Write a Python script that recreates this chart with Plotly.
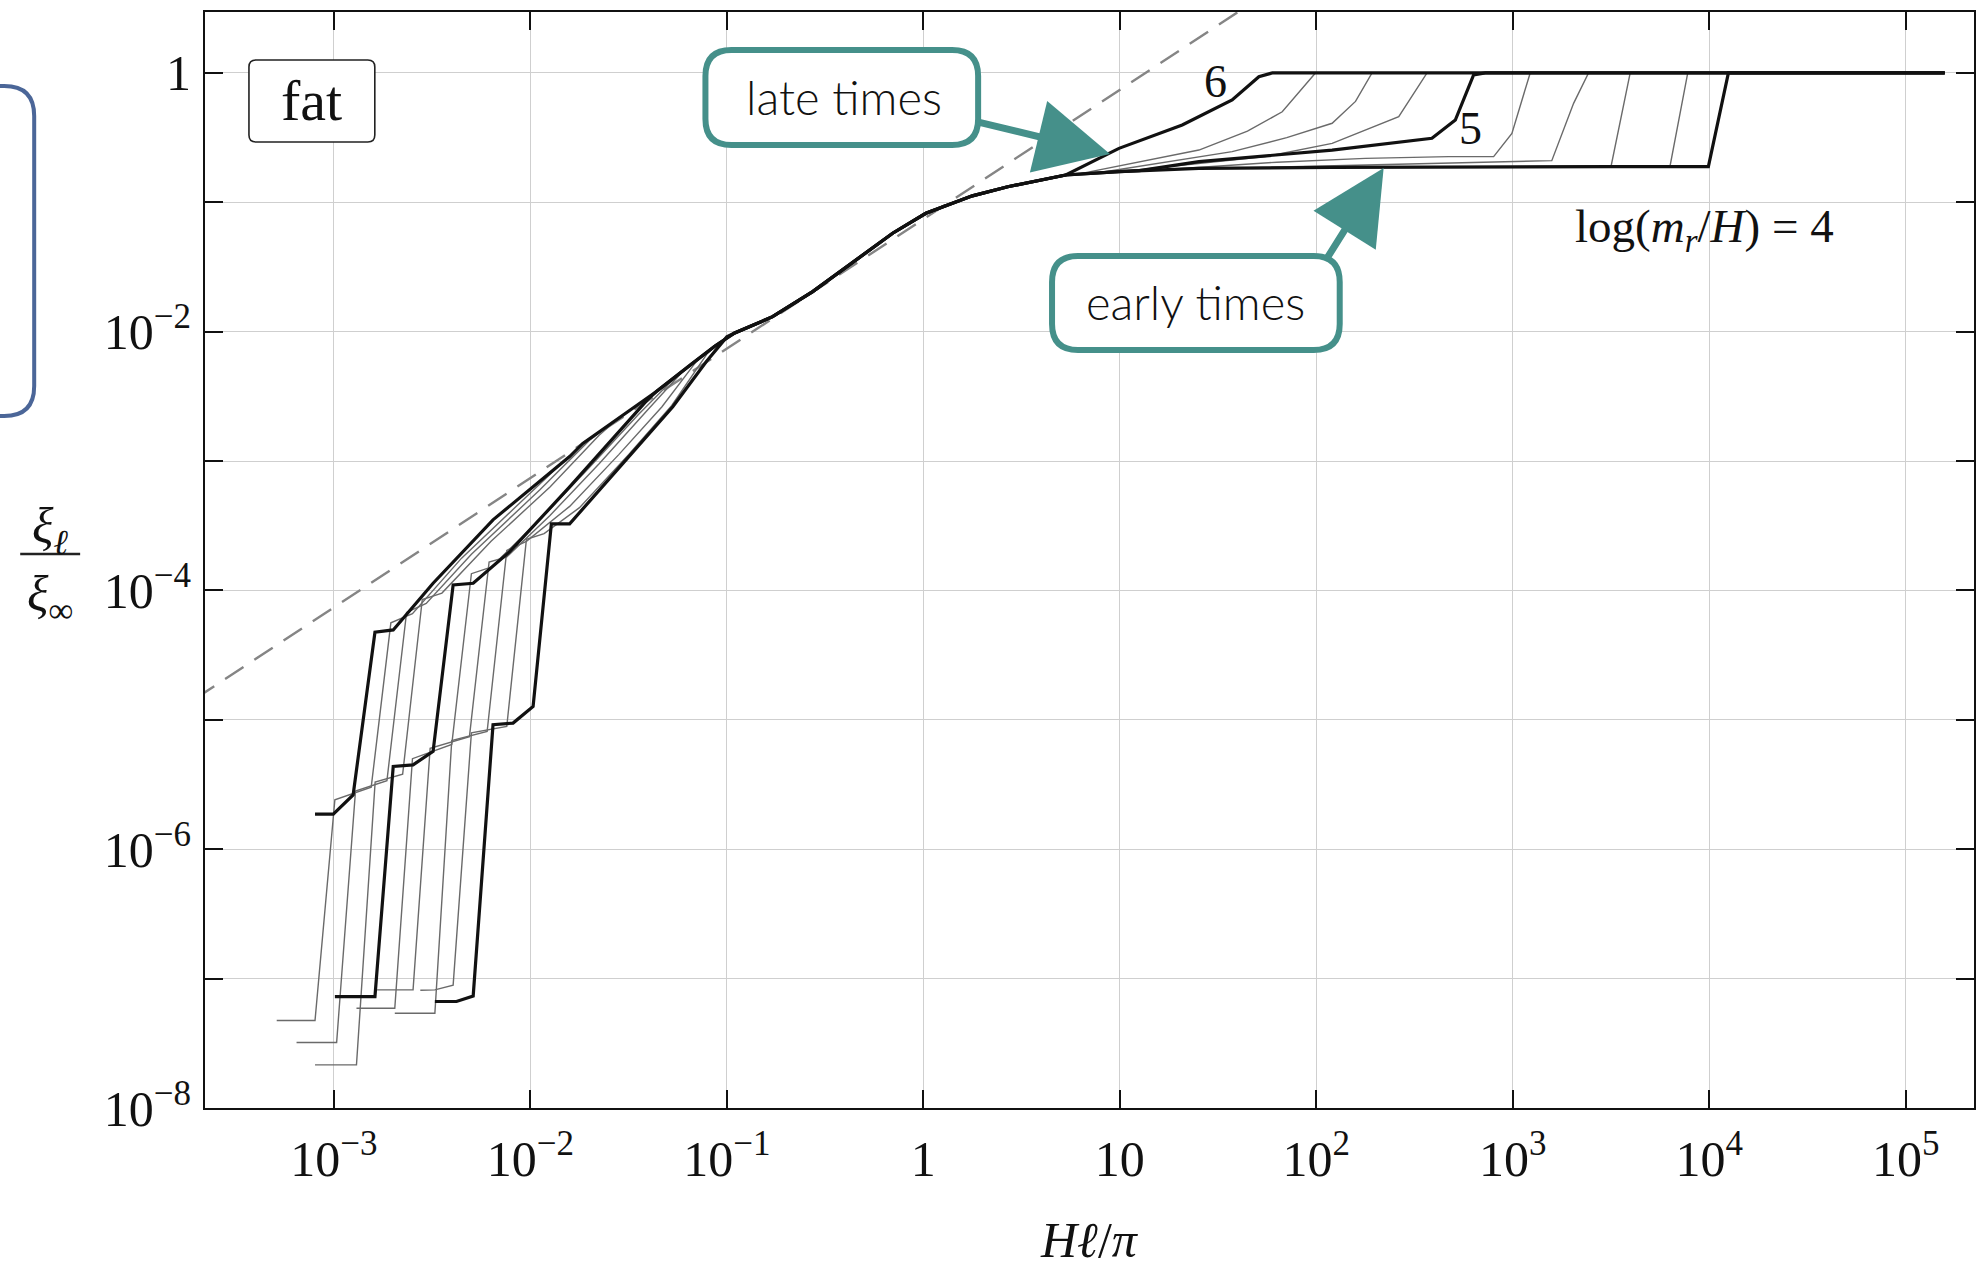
import numpy as np
import plotly.graph_objects as go

# ---------------- data (log10 values) ----------------
# common envelope shared by all curves (log10 x, log10 y)
ENV_LX = [-1.800, -1.733, -1.55, -1.360, -1.18, -1.06, -0.96, -0.86, -0.767, -0.563, -0.343, -0.156,
          0.013, 0.25, 0.43, 0.60, 0.725, 0.996, 1.2, 1.403, 2.081, 2.928, 3.5, 3.996]
ENV_LY = [-2.965, -2.863, -2.667, -2.464, -2.249, -2.11, -2.01, -1.945, -1.884, -1.690, -1.446, -1.239,
          -1.085, -0.95, -0.88, -0.825, -0.789, -0.763, -0.748, -0.737, -0.730, -0.724, -0.724, -0.724]
END_LX, END_LY = 5.199, 0.0

# log(m_r/H) values of the curves
LOG_MR = [6, 5.75, 5.5, 5.25, 5, 4.8, 4.6, 4.4, 4.2, 4]
THICK = [6, 5, 4]

C6_LEFT_LX = [-3.096, -3.003, -2.902, -2.791, -2.698, -2.495, -2.190]
C6_LEFT_LY = [-5.729, -5.729, -5.580, -4.323, -4.305, -3.944, -3.454]
C6_RIGHT_LX = [0.725, 0.996, 1.318, 1.572, 1.708, 1.776]
C6_RIGHT_LY = [-0.789, -0.583, -0.402, -0.209, -0.029, 0.0]

C575_LEFT_LX = [-3.291, -3.096, -2.995, -2.81, -2.71, -2.60, -2.35, -2.0]
C575_LEFT_LY = [-7.324, -7.324, -5.618, -5.52, -4.25, -4.18, -3.75, -3.25]
C575_RIGHT_LX = [0.80, 1.10, 1.403, 1.65, 1.827, 1.996]
C575_RIGHT_LY = [-0.778, -0.69, -0.596, -0.45, -0.30, 0.0]

C55_LEFT_LX = [-3.190, -2.986, -2.89, -2.73, -2.63, -2.53, -2.30, -1.95, -1.70]
C55_LEFT_LY = [-7.494, -7.494, -5.55, -5.47, -4.17, -4.10, -3.72, -3.22, -2.84]
C55_RIGHT_LX = [0.90, 1.2, 1.572, 1.85, 2.081, 2.20, 2.284]
C55_RIGHT_LY = [-0.770, -0.70, -0.608, -0.50, -0.389, -0.22, 0.0]

C525_LEFT_LX = [-3.096, -2.885, -2.79, -2.65, -2.55, -2.45, -2.20, -1.90, -1.65]
C525_LEFT_LY = [-7.667, -7.667, -5.48, -5.42, -4.07, -4.02, -3.62, -3.20, -2.80]
C525_RIGHT_LX = [1.0, 1.4, 1.742, 2.081, 2.420, 2.564]
C525_RIGHT_LY = [-0.763, -0.70, -0.647, -0.544, -0.338, 0.0]

C5_LEFT_LX = [-2.995, -2.791, -2.698, -2.597, -2.495, -2.393, -2.291, -2.105, -1.80, -1.55, -1.40]
C5_LEFT_LY = [-7.139, -7.139, -5.360, -5.348, -5.244, -3.957, -3.944, -3.70, -3.20, -2.78, -2.52]
C5_RIGHT_LX = [1.1, 1.403, 2.081, 2.589, 2.708, 2.801, 2.861]
C5_RIGHT_LY = [-0.755, -0.686, -0.596, -0.505, -0.364, -0.016, 0.0]

C48_LEFT_LX = [-2.885, -2.690, -2.60, -2.40, -2.30, -2.20, -1.95, -1.70, -1.45, -1.30]
C48_LEFT_LY = [-7.229, -7.229, -5.30, -5.19, -3.87, -3.82, -3.45, -3.05, -2.64, -2.41]
C48_RIGHT_LX = [1.3, 1.8, 2.25, 2.674, 2.903, 2.996, 3.089]
C48_RIGHT_LY = [-0.740, -0.69, -0.66, -0.647, -0.647, -0.467, 0.0]

C46_LEFT_LX = [-2.78, -2.597, -2.51, -2.31, -2.21, -2.12, -1.90, -1.65, -1.40, -1.22]
C46_LEFT_LY = [-7.087, -7.087, -5.22, -5.13, -3.78, -3.74, -3.42, -3.02, -2.60, -2.30]
C46_RIGHT_LX = [1.6, 2.5, 3.199, 3.310, 3.386]
C46_RIGHT_LY = [-0.735, -0.705, -0.678, -0.235, 0.0]

C44_LEFT_LX = [-2.690, -2.486, -2.40, -2.22, -2.12, -2.02, -1.80, -1.55, -1.33, -1.15]
C44_LEFT_LY = [-7.268, -7.268, -5.16, -5.09, -3.69, -3.62, -3.35, -2.95, -2.58, -2.22]
C44_RIGHT_LX = [2.2, 3.501, 3.598]
C44_RIGHT_LY = [-0.728, -0.719, 0.0]

C42_LEFT_LX = [-2.56, -2.486, -2.393, -2.30, -2.12, -2.02, -1.93, -1.75, -1.50, -1.28, -1.10]
C42_LEFT_LY = [-7.09, -7.087, -7.05, -5.10, -5.05, -3.605, -3.56, -3.36, -2.95, -2.57, -2.17]
C42_RIGHT_LX = [2.5, 3.801, 3.891]
C42_RIGHT_LY = [-0.726, -0.719, 0.0]

C4_LEFT_LX = [-2.486, -2.376, -2.291, -2.190, -2.088, -1.986, -1.893, -1.800, -1.529, -1.275, -1.105, -1.00]
C4_LEFT_LY = [-7.177, -7.177, -7.134, -5.038, -5.025, -4.897, -3.485, -3.485, -3.018, -2.580, -2.232, -2.04]
C4_RIGHT_LX = [3.996, 4.098]
C4_RIGHT_LY = [-0.724, 0.0]

CURVES = {
    6: (C6_LEFT_LX, C6_LEFT_LY, C6_RIGHT_LX, C6_RIGHT_LY),
    5.75: (C575_LEFT_LX, C575_LEFT_LY, C575_RIGHT_LX, C575_RIGHT_LY),
    5.5: (C55_LEFT_LX, C55_LEFT_LY, C55_RIGHT_LX, C55_RIGHT_LY),
    5.25: (C525_LEFT_LX, C525_LEFT_LY, C525_RIGHT_LX, C525_RIGHT_LY),
    5: (C5_LEFT_LX, C5_LEFT_LY, C5_RIGHT_LX, C5_RIGHT_LY),
    4.8: (C48_LEFT_LX, C48_LEFT_LY, C48_RIGHT_LX, C48_RIGHT_LY),
    4.6: (C46_LEFT_LX, C46_LEFT_LY, C46_RIGHT_LX, C46_RIGHT_LY),
    4.4: (C44_LEFT_LX, C44_LEFT_LY, C44_RIGHT_LX, C44_RIGHT_LY),
    4.2: (C42_LEFT_LX, C42_LEFT_LY, C42_RIGHT_LX, C42_RIGHT_LY),
    4: (C4_LEFT_LX, C4_LEFT_LY, C4_RIGHT_LX, C4_RIGHT_LY),
}

# dashed reference line (end points)
DASH_X = [1e-4, 100.0]
DASH_Y = [7.4e-6, 7.4]

X_TICKVALS = [1e-3, 1e-2, 1e-1, 1, 10, 1e2, 1e3, 1e4, 1e5]
X_TICKTEXT = ["10<sup>−3</sup>", "10<sup>−2</sup>", "10<sup>−1</sup>", "1", "10",
              "10<sup>2</sup>", "10<sup>3</sup>", "10<sup>4</sup>", "10<sup>5</sup>"]
Y_TICKVALS = [1e-8, 1e-7, 1e-6, 1e-5, 1e-4, 1e-3, 1e-2, 1e-1, 1]
Y_TICKTEXT = ["10<sup>−8</sup>", "", "10<sup>−6</sup>", "", "10<sup>−4</sup>", "",
              "10<sup>−2</sup>", "", "1"]

X_RANGE = [-3.656, 5.348]
Y_RANGE = [-8.0, 0.471]


def build(lxl, lyl, lxr, lyr):
    x0, x1 = lxl[-1], lxr[0]
    mx = [x for x in ENV_LX if x0 < x < x1]
    my = [y for x, y in zip(ENV_LX, ENV_LY) if x0 < x < x1]
    lx = list(lxl) + mx + list(lxr) + [END_LX]
    ly = list(lyl) + my + list(lyr) + [END_LY]
    return np.power(10.0, lx), np.power(10.0, ly)


fig = go.Figure()

fig.add_trace(go.Scatter(x=DASH_X, y=DASH_Y, mode="lines",
                         line=dict(color="#858585", width=2.4, dash="22px,13px"),
                         hoverinfo="skip", showlegend=False))

for k in LOG_MR:
    if k in THICK:
        continue
    xs, ys = build(*CURVES[k])
    fig.add_trace(go.Scatter(x=xs, y=ys, mode="lines",
                             line=dict(color="#6a6a6a", width=1.4),
                             name=f"log(m_r/H)={k}", showlegend=False))
for k in THICK:
    xs, ys = build(*CURVES[k])
    fig.add_trace(go.Scatter(x=xs, y=ys, mode="lines",
                             line=dict(color="#111111", width=3.2),
                             name=f"log(m_r/H)={k}", showlegend=False))

# ---------------- layout ----------------
FW, FH = 1976, 1270
L, R, T, B = 205, 0, 12, 162
W = FW - L - R
H = FH - T - B


def px(x):
    return (x - L) / W


def py(y):
    return (FH - B - y) / H


def rrect(x0, y0, x1, y1, r):
    rx, ry = r / W, r / H
    X0, X1, Y0, Y1 = px(x0), px(x1), py(y0), py(y1)
    return (f"M{X0+rx},{Y0} L{X1-rx},{Y0} Q{X1},{Y0} {X1},{Y0-ry} "
            f"L{X1},{Y1+ry} Q{X1},{Y1} {X1-rx},{Y1} L{X0+rx},{Y1} "
            f"Q{X0},{Y1} {X0},{Y1+ry} L{X0},{Y0-ry} Q{X0},{Y0} {X0+rx},{Y0} Z")


TEAL = "#45908a"
SERIF = "Liberation Serif"
SANS = "Lato"

shapes = [
    dict(type="path", xref="paper", yref="paper", path=rrect(-260, 86, 34, 416, 30),
         line=dict(color="#4b6698", width=4), fillcolor="rgba(0,0,0,0)", layer="above"),
    dict(type="path", xref="paper", yref="paper", path=rrect(249, 60, 375, 142, 7),
         line=dict(color="#222222", width=1.6), fillcolor="white", layer="above"),
    dict(type="path", xref="paper", yref="paper", path=rrect(706, 50, 979, 145, 26),
         line=dict(color=TEAL, width=6), fillcolor="white", layer="above"),
    dict(type="path", xref="paper", yref="paper", path=rrect(1053, 256, 1341, 350, 26),
         line=dict(color=TEAL, width=6), fillcolor="white", layer="above"),
    dict(type="line", xref="paper", yref="paper", x0=px(20), x1=px(80), y0=py(554), y1=py(554),
         line=dict(color="#222222", width=2.4)),
]


def ann(x, y, text, size, family=SERIF, weight=None, **kw):
    f = dict(family=family, size=size, color="#111111")
    if weight is not None:
        f["weight"] = weight
    return dict(x=px(x), y=py(y), xref="paper", yref="paper", text=text, showarrow=False,
                font=f, xanchor="center", yanchor="middle", **kw)


annotations = [
    ann(312, 100, "fat", 58),
    ann(845, 97, "late times", 47, family=SANS, weight=300),
    ann(1197, 302, "early times", 47, family=SANS, weight=300),
    ann(1217, 81, "6", 46),
    ann(1472, 129, "5", 46),
    ann(1706, 229, "log(<i>m</i><sub><i>r</i></sub>/<i>H</i>) = 4", 47),
    ann(50, 530, "<i>ξ</i><sub><i>ℓ</i></sub>", 50),
    ann(50, 598, "<i>ξ</i><sub>∞</sub>", 50),
    ann(1091, 1240, "<i>Hℓ</i>/<i>π</i>", 50),
    # arrows
    dict(x=px(1111), y=py(154), xref="paper", yref="paper", text="", showarrow=True,
         ax=979 - 1111, ay=122 - 154, arrowhead=2, arrowwidth=7, arrowsize=2.1,
         arrowcolor=TEAL, standoff=0),
    dict(x=px(1385), y=py(168), xref="paper", yref="paper", text="", showarrow=True,
         ax=1326 - 1385, ay=262 - 168, arrowhead=2, arrowwidth=7, arrowsize=2.1,
         arrowcolor=TEAL, standoff=0),
]

axis_common = dict(type="log", showline=True, linecolor="#111111", linewidth=2,
                   mirror="ticks", ticks="inside", ticklen=18, tickwidth=1.6,
                   tickcolor="#111111", showgrid=True, gridcolor="#cfcfcf", gridwidth=1.2,
                   zeroline=False,
                   tickfont=dict(family=SERIF, size=50, color="#111111"))

fig.update_layout(
    width=FW, height=FH,
    margin=dict(l=L, r=R, t=T, b=B, pad=0),
    paper_bgcolor="white", plot_bgcolor="white",
    showlegend=False,
    xaxis=dict(range=X_RANGE, tickmode="array", tickvals=X_TICKVALS, ticktext=X_TICKTEXT,
               ticklabelstandoff=6, **axis_common),
    yaxis=dict(range=Y_RANGE, tickmode="array", tickvals=Y_TICKVALS, ticktext=Y_TICKTEXT,
               ticklabelstandoff=2, **axis_common),
    shapes=shapes,
    annotations=annotations,
)

fig.write_html("out.html")
